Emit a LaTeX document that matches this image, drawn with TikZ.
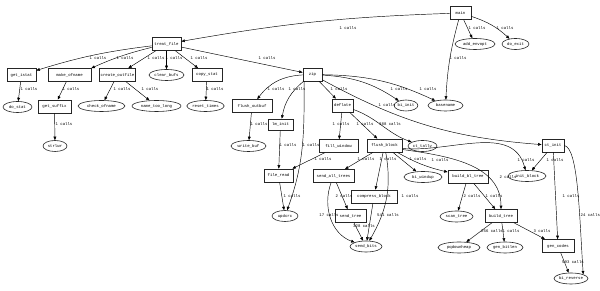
\documentclass[tikz,border=0pt]{standalone}
\usepackage{fontspec}
\newfontfamily\callfont{Liberation Mono}
\usepackage{tikz}
\usetikzlibrary{arrows.meta,shapes.geometric}
\tikzset{
  func/.style={
    rectangle, draw=black!85, line width=0.7pt, minimum width=#1,
    minimum height=13pt, inner xsep=1.5pt, inner ysep=0pt,
    font=\callfont\fontsize{4}{4}\selectfont
  },
  func/.default=20pt,
  leaf/.style={
    ellipse, draw=black!85, line width=0.6pt, minimum width=#1,
    minimum height=11pt, inner sep=0pt,
    font=\callfont\fontsize{4}{4}\selectfont
  },
  leaf/.default=30pt,
  call/.style={-{Triangle[length=3.5pt,width=2.8pt]}, line width=0.45pt},
  ncalls/.style={font=\callfont\fontsize{4}{4}\selectfont, inner sep=0pt},
}
\begin{document}
\begin{tikzpicture}[x=1pt,y=1pt]
  \useasboundingbox (0,0) rectangle (600,291);

  % functions that call others
  \node[func=21pt] (main) at (460.5,278) {main};
  \node[func=29pt] (treat_file) at (166.5,247) {treat\_file};
  \node[func=29pt] (get_istat) at (21.5,216) {get\_istat};
  \node[func=43pt] (make_ofname) at (69.5,216) {make\_ofname};
  \node[func=32pt] (create_outfile) at (117.5,216) {create\_outfile};
  \node[func=30pt] (copy_stat) at (207,216) {copy\_stat};
  \node[func=19pt] (zip) at (312.5,216.5) {zip};
  \node[func=33pt] (get_suffix) at (54.5,184.5) {get\_suffix};
  \node[func=40pt] (flush_outbuf) at (252,185) {flush\_outbuf};
  \node[func=21pt] (deflate) at (342.5,185.5) {deflate};
  \node[func=25pt, minimum height=11pt] (lm_init) at (280.5,166.5) {lm\_init};
  \node[func=39pt] (fill_window) at (338.5,145) {fill\_window};
  \node[func=35pt] (flush_block) at (384.5,145.5) {flush\_block};
  \node[func=22pt] (ct_init) at (553,145.5) {ct\_init};
  \node[func=29pt] (file_read) at (278.5,115.5) {file\_read};
  \node[func=41pt] (send_all_trees) at (333.5,115) {send\_all\_trees};
  \node[func=40pt] (build_bl_tree) at (468,114.5) {build\_bl\_tree};
  \node[func=46pt] (compress_block) at (374,94.5) {compress\_block};
  \node[func=31pt] (send_tree) at (350.5,75) {send\_tree};
  \node[func=32pt] (build_tree) at (501,75) {build\_tree};
  \node[func=32pt] (gen_codes) at (558,45) {gen\_codes};

  % leaf functions
  \node[leaf=40pt] (add_envopt) at (475,247) {add\_envopt};
  \node[leaf=27pt] (do_exit) at (515.5,247) {do\_exit};
  \node[leaf=35pt] (clear_bufs) at (166.5,216) {clear\_bufs};
  \node[leaf=35pt] (basename) at (445.5,185.5) {basename};
  \node[leaf=22pt] (bi_init) at (406,185.5) {bi\_init};
  \node[leaf=29pt] (do_stat) at (17.5,184) {do\_stat};
  \node[leaf=47pt] (check_ofname) at (101.5,185) {check\_ofname};
  \node[leaf=49pt] (name_too_long) at (156.5,185) {name\_too\_long};
  \node[leaf=35pt] (reset_times) at (205.5,185) {reset\_times};
  \node[leaf=24pt] (strlwr) at (55,145) {strlwr};
  \node[leaf=35pt] (write_buf) at (248.5,145) {write\_buf};
  \node[leaf=29pt] (ct_tally) at (422.5,145) {ct\_tally};
  \node[leaf=38pt] (bi_windup) at (423,114) {bi\_windup};
  \node[leaf=38pt] (init_block) at (527,115) {init\_block};
  \node[leaf=26pt] (updcrc) at (285,75) {updcrc};
  \node[leaf=33pt] (scan_tree) at (456.5,74.5) {scan\_tree};
  \node[leaf=32pt] (send_bits) at (366,44.5) {send\_bits};
  \node[leaf=42pt] (pqdownheap) at (459,43.5) {pqdownheap};
  \node[leaf=36pt] (gen_bitlen) at (505,43.5) {gen\_bitlen};
  \node[leaf=34pt] (bi_reverse) at (571,12.5) {bi\_reverse};

  % main
  \draw[call] (main) to[bend right=4] (treat_file) node[ncalls] at (348,263) {1 calls};
  \draw[call] (main) -- (add_envopt) node[ncalls] at (477,263) {1 calls};
  \draw[call] (main) to[bend left=12] (do_exit) node[ncalls] at (505,263) {1 calls};
  \draw[call] (main) to[bend right=6] (basename) node[ncalls] at (458,233) {1 calls};

  % treat_file
  \draw[call] (treat_file) to[bend right=5] (get_istat) node[ncalls] at (98,233) {1 calls};
  \draw[call] (treat_file) to[bend right=5] (make_ofname.north east) node[ncalls] at (125,233) {1 calls};
  \draw[call] (treat_file) -- (create_outfile) node[ncalls] at (156,233) {1 calls};
  \draw[call] (treat_file) -- (clear_bufs) node[ncalls] at (174,233) {1 calls};
  \draw[call] (treat_file) -- (copy_stat) node[ncalls] at (199,233) {1 calls};
  \draw[call] (treat_file) -- (zip) node[ncalls] at (267,233) {1 calls};

  \draw[call] (get_istat) -- (do_stat) node[ncalls] at (29,202) {1 calls};
  \draw[call] (make_ofname) -- (get_suffix) node[ncalls] at (71,202) {1 calls};
  \draw[call] (create_outfile) -- (check_ofname) node[ncalls] at (122,202) {1 calls};
  \draw[call] (create_outfile) -- (name_too_long) node[ncalls] at (150,202) {1 calls};
  \draw[call] (copy_stat) -- (reset_times) node[ncalls] at (215,202) {1 calls};
  \draw[call] (get_suffix) -- (strlwr) node[ncalls] at (64,167) {1 calls};

  % zip
  \draw[call] (zip) to[bend right=25] (flush_outbuf) node[ncalls] at (276,202) {1 calls};
  \draw[call] (zip) to[bend right=20] (lm_init) node[ncalls] at (297,202) {1 calls};
  \draw[call] (zip) -- (deflate) node[ncalls] at (339,202) {1 calls};
  \draw[call] (zip) to[bend left=15] (bi_init) node[ncalls] at (399,202) {1 calls};
  \draw[call] (zip) to[bend left=12] (basename) node[ncalls] at (428,202) {1 calls};
  \draw[call] (zip) to[bend right=12] (ct_init) node[ncalls] at (387,186) {1 calls};
  \draw[call] ([xshift=1.5pt]zip.south west) to[out=-90,in=70] (updcrc) node[ncalls] at (311,146) {1 calls};
  \draw[call] (flush_outbuf) -- (write_buf) node[ncalls] at (259,167) {1 calls};

  % deflate
  \draw[call] (deflate) -- (fill_window) node[ncalls] at (341,167) {1 calls};
  \draw[call] (deflate) -- (flush_block) node[ncalls] at (365,167) {1 calls};
  \draw[call] (deflate) to[out=-20,in=160] (ct_tally) node[ncalls] at (390,167) {388 calls};
  \draw[call] (lm_init) -- (file_read) node[ncalls] at (288,146) {1 calls};
  \draw[call] (fill_window) -- (file_read) node[ncalls] at (323,132) {1 calls};
  \draw[call] (file_read) -- (updcrc) node[ncalls] at (292,95) {1 calls};

  % flush_block
  \draw[call] (flush_block) -- (send_all_trees) node[ncalls] at (366,132) {1 calls};
  \draw[call] (flush_block) -- (compress_block) node[ncalls] at (388,132) {1 calls};
  \draw[call] (flush_block) -- (bi_windup) node[ncalls] at (418,132) {1 calls};
  \draw[call] (flush_block) to[bend right=8] (build_bl_tree) node[ncalls] at (440,131) {1 calls};
  \draw[call] ([yshift=-3pt]flush_block.east) to[out=-5,in=105] (init_block) node[ncalls] at (526,131) {1 calls};
  \draw[call] ([yshift=-4pt]flush_block.east) to[out=-8,in=90] (build_tree) node[ncalls] at (508,114) {2 calls};
  \draw[call] (flush_block) to[out=-80,in=60] (send_bits) node[ncalls] at (410,95) {1 calls};

  % ct_init
  \draw[call] (ct_init) -- (init_block) node[ncalls] at (555,131) {1 calls};
  \draw[call] (ct_init) -- (gen_codes) node[ncalls] at (571,95) {1 calls};
  \draw[call] (ct_init.east) .. controls +(14,-3) and +(-4,60) .. (bi_reverse.north east) node[ncalls, anchor=west] at (580.5,76) {24 calls};

  % trees
  \draw[call] (send_all_trees) -- (send_tree) node[ncalls] at (344,95) {2 calls};
  \draw[call] (send_all_trees) to[out=-110,in=160] (send_bits) node[ncalls] at (329,76) {17 calls};
  \draw[call] (compress_block) -- (send_bits) node[ncalls] at (388,76) {541 calls};
  \draw[call] (send_tree) -- (send_bits) node[ncalls] at (364,65) {328 calls};
  \draw[call] (build_bl_tree) -- (scan_tree) node[ncalls] at (472,95) {2 calls};
  \draw[call] (build_bl_tree) -- (build_tree) node[ncalls] at (494,95) {1 calls};
  \draw[call] (build_tree) -- (pqdownheap) node[ncalls] at (492,60) {256 calls};
  \draw[call] (build_tree) -- (gen_bitlen) node[ncalls] at (511,60) {1 calls};
  \draw[call] (build_tree) -- (gen_codes) node[ncalls] at (542,60) {3 calls};
  \draw[call] (gen_codes) -- (bi_reverse) node[ncalls] at (573,29) {593 calls};
\end{tikzpicture}
\end{document}
